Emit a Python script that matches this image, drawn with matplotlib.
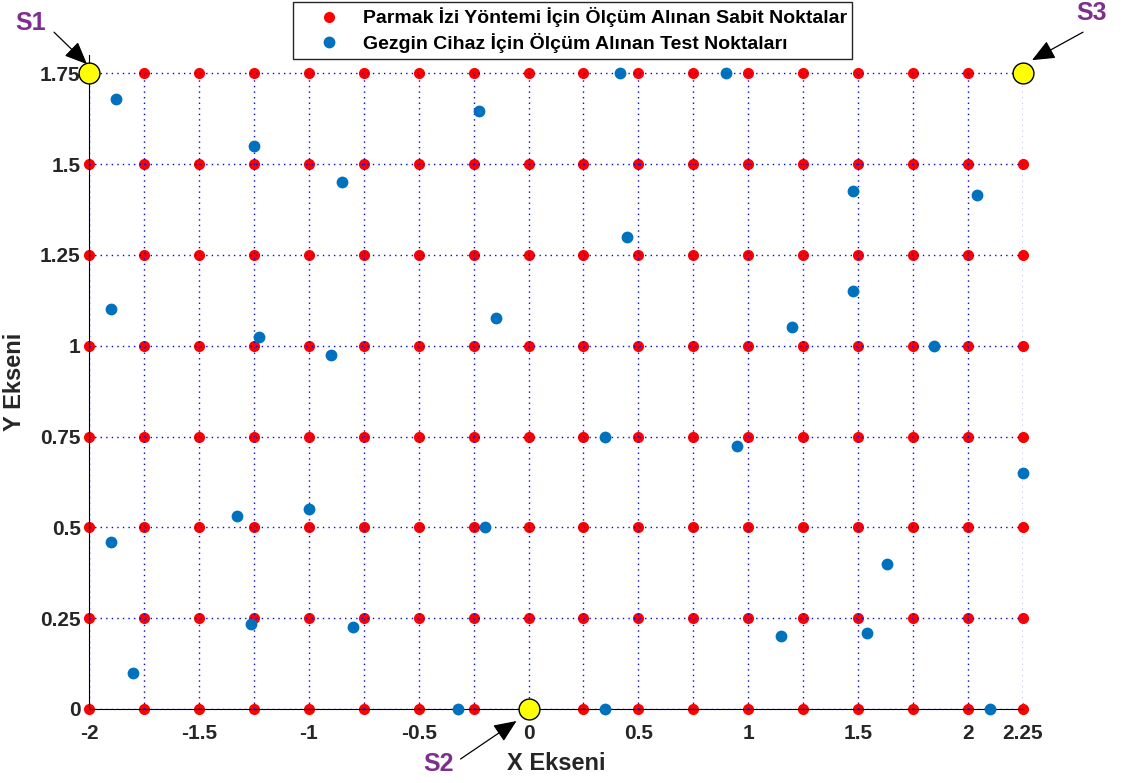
import matplotlib
matplotlib.use("Agg")
import numpy as np
import matplotlib.pyplot as plt
from matplotlib.transforms import offset_copy

plt.rcParams['font.family'] = ['Liberation Sans', 'DejaVu Sans']
plt.rcParams['font.weight'] = 'bold'

# fixed fingerprint grid
grid_x = [-2, -1.75, -1.5, -1.25, -1, -0.75, -0.5, -0.25, 0, 0.25, 0.5, 0.75, 1, 1.25, 1.5, 1.75, 2, 2.25]
grid_y = [0, 0.25, 0.5, 0.75, 1, 1.25, 1.5, 1.75]

# mobile device test points
test_x = [-1.875, -1.25, -0.85, -0.225, -1.9, -1.225, -0.9, -0.15,
          0.415, 0.9, 1.475, 2.04, 0.45, 1.475, 1.2, 1.845,
          -1.9, -1.8, -1.325, -1.265, -1.0, -0.8, -0.2, -0.32,
          0.35, 0.95, 2.25, 1.63, 1.15, 1.54, 0.35, 2.1]
test_y = [1.68, 1.55, 1.45, 1.645, 1.1, 1.025, 0.975, 1.075,
          1.75, 1.75, 1.425, 1.415, 1.3, 1.15, 1.05, 1.0,
          0.46, 0.1, 0.53, 0.235, 0.55, 0.225, 0.5, 0.0,
          0.75, 0.725, 0.65, 0.4, 0.2, 0.21, 0.0, 0.0]

# stations
st_x = [-2, 0, 2.25]
st_y = [1.75, 0, 1.75]
st_names = ['S1', 'S2', 'S3']

x_ticks = [-2, -1.5, -1, -0.5, 0, 0.5, 1, 1.5, 2, 2.25]
x_ticklabels = ['-2', '-1.5', '-1', '-0.5', '0', '0.5', '1', '1.5', '2', '2.25']
y_ticks = [0, 0.25, 0.5, 0.75, 1, 1.25, 1.5, 1.75]
y_ticklabels = ['0', '0.25', '0.5', '0.75', '1', '1.25', '1.5', '1.75']

fig = plt.figure(figsize=(11.22, 7.83), dpi=100)
ax = fig.add_axes([89 / 1122, 74 / 783, 934 / 1122, 654 / 783])

gx, gy = np.meshgrid(grid_x, grid_y)
ax.plot(gx.ravel(), gy.ravel(), 'o', color='#FF0000', ms=8, mew=0, clip_on=False, zorder=2,
        label='Parmak İzi Yöntemi İçin Ölçüm Alınan Sabit Noktalar')

# dotted guide lines
ax.vlines(grid_x, grid_y[0], grid_y[-1], colors='blue', linestyles=(0, (1, 3)), lw=1, zorder=2.5)
ax.hlines(grid_y, grid_x[0], grid_x[-1], colors='blue', linestyles=(0, (1, 3)), lw=1, zorder=2.5)

ax.plot(test_x, test_y, 'o', color='#0072BD', ms=8.5, mew=0, clip_on=False, zorder=3,
        label='Gezgin Cihaz İçin Ölçüm Alınan Test Noktaları')

ax.plot(st_x, st_y, 'o', mfc='yellow', mec='black', mew=1, ms=15, clip_on=False, zorder=4)

# arrows + labels (pixel offsets)
tips = [(-2, 9), (-12, -12), (9, 13)]
tails = [(-33, 32), (-56, -38), (51, 28)]
txt_off = [(-58, 50), (-90, -55), (69, 60)]
for i in range(3):
    tr = offset_copy(ax.transData, fig=fig, x=tips[i][0], y=tips[i][1], units='dots')
    ax.annotate('', xy=(st_x[i], st_y[i]), xycoords=tr, xytext=tails[i], textcoords='offset pixels',
                arrowprops=dict(arrowstyle='-|>,head_length=0.7,head_width=0.3', color='black',
                                lw=0.9, mutation_scale=20, shrinkA=0, shrinkB=0),
                annotation_clip=False)
    ax.annotate(st_names[i], xy=(st_x[i], st_y[i]), xytext=txt_off[i], textcoords='offset pixels',
                ha='center', va='center', fontsize=18, fontweight='bold', color='#7E2F8E',
                annotation_clip=False)

ax.set_xlim(-2, 2.25)
ax.set_ylim(0, 1.8)
ax.set_xticks(x_ticks)
ax.set_xticklabels(x_ticklabels)
ax.set_yticks(y_ticks)
ax.set_yticklabels(y_ticklabels)
ax.tick_params(direction='in', length=4, width=0.8, labelsize=15, labelcolor='#262626')
ax.tick_params(axis='x', pad=11)
ax.tick_params(axis='y', pad=6)
for lab in ax.get_xticklabels() + ax.get_yticklabels():
    lab.set_fontweight('bold')

ax.spines['top'].set_visible(False)
ax.spines['right'].set_visible(False)
ax.spines['left'].set_color('black')
ax.spines['bottom'].set_color('black')

ax.set_xlabel('X Ekseni', fontsize=17, fontweight='bold', color='#262626')
ax.set_ylabel('Y Ekseni', fontsize=17, fontweight='bold', color='#262626')
ax.xaxis.set_label_coords(0.5, -0.083)
ax.xaxis.label.set_va('center')
ax.yaxis.set_label_coords(-0.08, 0.5)
ax.yaxis.label.set_va('center')

leg = fig.legend(loc='upper left', bbox_to_anchor=(293 / 1122, 1 - 2 / 783), fontsize=14,
                 frameon=True, fancybox=False, framealpha=1, edgecolor='#262626',
                 borderaxespad=0, handlelength=3.1, handletextpad=0.21, borderpad=0.28,
                 labelspacing=0.3)
for t in leg.get_texts():
    t.set_fontweight('bold')
leg.get_frame().set_linewidth(1)

fig.savefig('out.png', dpi=100)
